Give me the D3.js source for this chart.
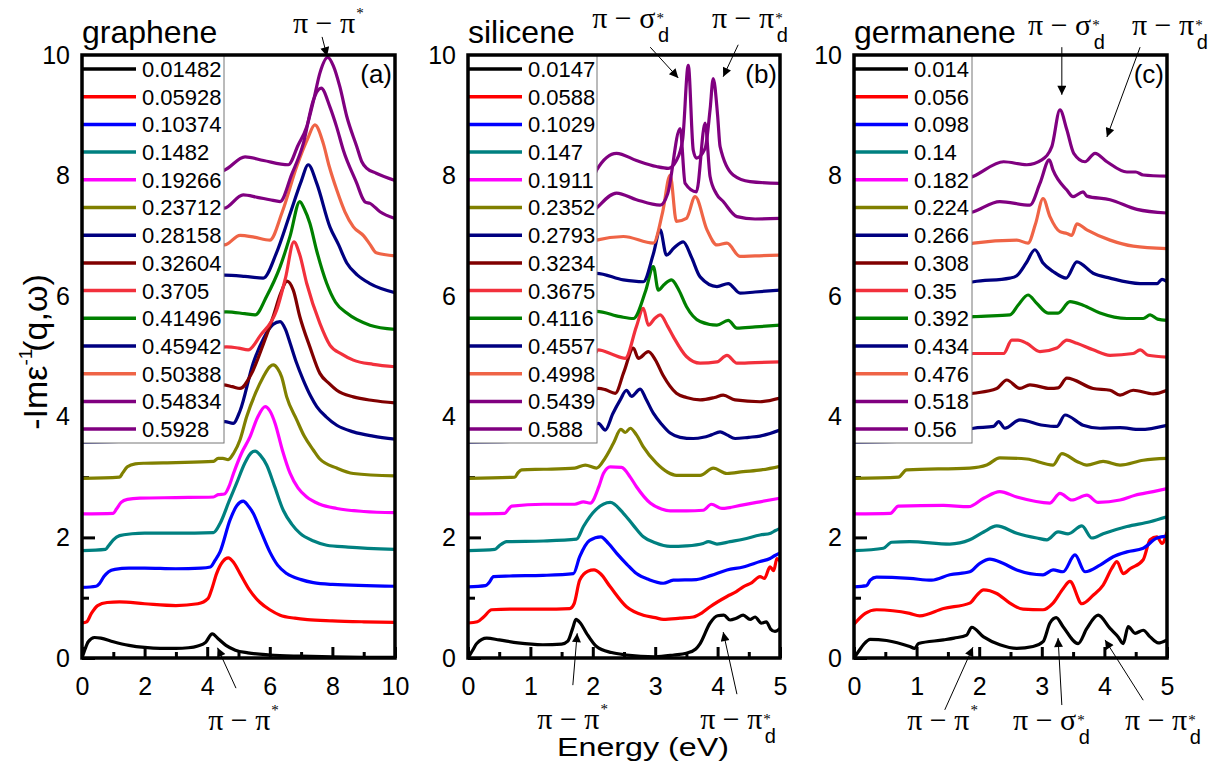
<!DOCTYPE html>
<html>
<head>
<meta charset="utf-8">
<script src="https://cdn.jsdelivr.net/npm/d3@7"></script>
<style>
  body { margin: 0; background: #fff; }
  svg text { font-family: Arial, "Liberation Sans", sans-serif; fill: #000; }
</style>
</head>
<body>
<svg id="chart" width="1230" height="771"></svg>
<script>
// Momentum transfers q (legend entries) for each material
const qGraphene = ["0.01482","0.05928","0.10374","0.1482","0.19266","0.23712","0.28158","0.32604","0.3705","0.41496","0.45942","0.50388","0.54834","0.5928"];
const qSilicene = ["0.0147","0.0588","0.1029","0.147","0.1911","0.2352","0.2793","0.3234","0.3675","0.4116","0.4557","0.4998","0.5439","0.588"];
const qGermanene = ["0.014","0.056","0.098","0.14","0.182","0.224","0.266","0.308","0.35","0.392","0.434","0.476","0.518","0.56"];

// Vertical shift between successive spectra
const offsetStep = 0.6;

// Tick labels
const yTickLabels = [0, 2, 4, 6, 8, 10];
const xTickLabelsGraphene = [0, 2, 4, 6, 8, 10];
const xTickLabelsSiGe = [0, 1, 2, 3, 4, 5];

// Loss spectra -Im eps^-1(q,w): [energy (eV), value] per q, before the vertical shift
const grapheneSpectra = [
  [[0,0],[0.1,0.15],[0.2,0.27],[0.4,0.34],[0.6,0.33],[1.0,0.27],[1.5,0.21],[2.0,0.175],[2.5,0.16],[3.0,0.16],[3.4,0.17],[3.7,0.2],[3.95,0.26],[4.16,0.4],[4.35,0.32],[4.6,0.21],[4.9,0.13],[5.3,0.085],[6.0,0.05],[7.0,0.03],[8.0,0.018],[9.0,0.012],[10,0.01]],
  [[0,-0.02],[0.15,0],[0.3,0.14],[0.5,0.27],[0.8,0.32],[1.2,0.33],[2,0.3],[3,0.27],[3.7,0.3],[4.03,0.39],[4.15,0.55],[4.3,0.8],[4.5,1.0],[4.67,1.06],[4.85,0.98],[5.05,0.8],[5.35,0.53],[5.69,0.32],[6,0.2],[6.33,0.11],[6.8,0.06],[7.2,0.035],[8,0.015],[9,0],[10,-0.01]],
  [[0,-0.03],[0.45,-0.01],[0.55,0.03],[0.7,0.15],[0.85,0.23],[1.05,0.27],[1.5,0.29],[2,0.29],[3,0.28],[3.8,0.29],[4.1,0.31],[4.25,0.42],[4.41,0.56],[4.73,1.09],[4.95,1.33],[5.15,1.4],[5.3,1.33],[5.47,1.2],[5.7,0.92],[6,0.56],[6.25,0.34],[6.54,0.2],[7,0.1],[7.39,0.05],[8,0.02],[10,-0.01]],
  [[0,-0.02],[0.75,0],[0.85,0.06],[1,0.16],[1.2,0.23],[1.6,0.26],[2,0.27],[3,0.27],[4.2,0.28],[4.41,0.43],[4.7,0.8],[4.94,1.1],[5.2,1.43],[5.4,1.6],[5.53,1.63],[5.7,1.56],[5.9,1.4],[6.15,1.05],[6.43,0.65],[6.7,0.42],[6.96,0.27],[7.4,0.14],[7.82,0.07],[8.5,0.04],[10,0]],
  [[0,-0.01],[1,0],[1.1,0.07],[1.25,0.18],[1.45,0.23],[1.85,0.25],[3,0.26],[4.2,0.27],[4.35,0.31],[4.55,0.32],[4.7,0.45],[4.84,0.66],[5.1,1.0],[5.37,1.27],[5.6,1.58],[5.85,1.77],[6.0,1.7],[6.17,1.49],[6.4,1.05],[6.65,0.66],[6.9,0.42],[7.18,0.27],[7.6,0.15],[8.14,0.08],[9,0.03],[10,0.01]],
  [[0,-0.02],[1.2,0],[1.3,0.07],[1.45,0.17],[1.7,0.22],[2,0.23],[3,0.24],[4.2,0.26],[4.35,0.31],[4.5,0.31],[4.67,0.29],[4.85,0.4],[5.05,0.62],[5.26,1.0],[5.55,1.4],[5.79,1.66],[6,1.83],[6.11,1.86],[6.25,1.8],[6.38,1.66],[6.54,1.33],[6.86,0.95],[7.1,0.68],[7.39,0.45],[7.6,0.3],[8.14,0.15],[8.67,0.06],[10,0.02]],
  [[0,-0.02],[1.45,0],[1.6,0.1],[1.8,0.2],[2.2,0.24],[3,0.26],[4.2,0.28],[4.57,0.32],[4.83,0.29],[5.05,0.5],[5.47,1.29],[5.8,1.7],[6.1,1.93],[6.33,1.98],[6.5,1.85],[6.65,1.62],[6.85,1.3],[7.07,1.01],[7.3,0.75],[7.5,0.57],[7.8,0.4],[8.14,0.26],[8.67,0.15],[9.3,0.08],[10,0.03]],
  [[0,-0.02],[1.7,0],[1.85,0.1],[2.05,0.2],[2.5,0.25],[3.5,0.28],[4.51,0.33],[4.8,0.3],[5.05,0.27],[5.4,0.5],[5.79,1.0],[6.1,1.45],[6.35,1.85],[6.55,2.05],[6.75,1.9],[6.96,1.46],[7.28,0.96],[7.6,0.52],[7.9,0.35],[8.14,0.24],[8.67,0.13],[9.3,0.07],[10,0.03]],
  [[0,-0.02],[1.95,0],[2.1,0.1],[2.3,0.2],[3,0.27],[4,0.32],[4.62,0.36],[5,0.34],[5.31,0.31],[5.7,0.55],[6.22,0.97],[6.5,1.5],[6.77,2.1],[6.95,1.9],[7.18,1.41],[7.6,0.75],[7.92,0.39],[8.3,0.24],[8.67,0.14],[9.3,0.07],[10,0.03]],
  [[0,-0.02],[2.2,0],[2.35,0.1],[2.55,0.2],[3.2,0.27],[4.62,0.34],[5.2,0.31],[5.53,0.29],[5.9,0.6],[6.33,1.09],[6.65,1.6],[6.96,2.17],[7.1,2.05],[7.28,1.81],[7.5,1.35],[7.82,0.81],[8.1,0.5],[8.46,0.32],[9.2,0.12],[10,0.05]],
  [[0,-0.02],[2.45,0],[2.6,0.1],[2.8,0.2],[3.5,0.28],[4.55,0.35],[5.2,0.33],[5.79,0.3],[6.2,0.7],[6.65,1.37],[7,1.9],[7.23,2.18],[7.5,1.87],[7.92,1.15],[8.2,0.85],[8.46,0.55],[8.8,0.35],[9.2,0.21],[10,0.06]],
  [[0,-0.02],[2.7,0],[2.85,0.1],[3.1,0.2],[3.8,0.25],[4.55,0.25],[5.05,0.41],[5.5,0.38],[6,0.33],[6.4,0.8],[6.86,1.55],[7.2,2.0],[7.44,2.24],[7.71,1.93],[7.9,1.55],[8.14,1.16],[8.4,0.8],[8.67,0.55],[9,0.4],[9.2,0.26],[9.4,0.12],[10,0.07]],
  [[0,-0.02],[2.95,0],[3.1,0.1],[3.35,0.2],[4,0.24],[4.55,0.26],[5.15,0.48],[5.6,0.44],[6,0.4],[6.33,0.37],[6.7,0.82],[7.07,1.33],[7.39,2.05],[7.64,2.25],[7.92,1.94],[8.14,1.6],[8.35,1.22],[8.78,0.67],[8.99,0.4],[9.05,0.36],[9.2,0.34],[9.52,0.2],[10,0.09]],
  [[0,-0.02],[3.2,0],[3.35,0.1],[3.6,0.2],[4.2,0.25],[4.55,0.29],[5.21,0.51],[5.8,0.45],[6.59,0.38],[6.9,0.7],[7.18,1.01],[7.4,1.45],[7.6,1.9],[7.85,2.16],[8.03,2.02],[8.24,1.67],[8.46,1.18],[8.78,0.68],[8.94,0.43],[9.1,0.32],[9.4,0.24],[10,0.12]]
];

const siliceneSpectra = [
  [[0,0],[0.07,0.12],[0.14,0.24],[0.3,0.33],[0.5,0.3],[0.8,0.25],[1.2,0.22],[1.5,0.23],[1.6,0.28],[1.68,0.5],[1.73,0.64],[1.8,0.58],[1.9,0.41],[2.06,0.19],[2.3,0.09],[2.54,0.05],[3,0.02],[3.3,0.05],[3.5,0.08],[3.65,0.15],[3.72,0.24],[3.88,0.58],[4,0.7],[4.1,0.71],[4.2,0.63],[4.3,0.66],[4.41,0.71],[4.52,0.64],[4.6,0.68],[4.7,0.58],[4.78,0.6],[4.85,0.48],[4.92,0.44],[5,0.49]],
  [[0,-0.02],[0.15,0],[0.25,0.08],[0.38,0.2],[0.67,0.21],[1.2,0.21],[1.63,0.22],[1.7,0.3],[1.79,0.69],[1.92,0.84],[2.02,0.86],[2.12,0.8],[2.28,0.58],[2.54,0.25],[2.81,0.11],[3,0.07],[3.13,0.04],[3.4,0.06],[3.61,0.08],[3.75,0.15],[3.88,0.25],[4.15,0.42],[4.3,0.5],[4.41,0.58],[4.55,0.65],[4.68,0.75],[4.75,0.72],[4.84,0.91],[4.9,0.85],[4.95,1.05],[5,1.0]],
  [[0,-0.02],[0.28,0],[0.33,0.04],[0.41,0.15],[0.67,0.16],[1.2,0.17],[1.69,0.2],[1.79,0.48],[1.95,0.75],[2.13,0.81],[2.25,0.7],[2.38,0.54],[2.55,0.35],[2.7,0.2],[2.9,0.1],[3.13,0.04],[3.29,0.09],[3.66,0.1],[3.9,0.17],[4.15,0.26],[4.41,0.31],[4.68,0.4],[4.84,0.45],[4.92,0.5],[5,0.54]],
  [[0,-0.02],[0.43,0],[0.5,0.06],[0.62,0.13],[1.21,0.14],[1.74,0.17],[1.85,0.38],[2.05,0.66],[2.28,0.78],[2.49,0.6],[2.65,0.4],[2.81,0.21],[3.0,0.11],[3.24,0.05],[3.5,0.06],[3.77,0.1],[3.85,0.13],[3.99,0.09],[4.2,0.13],[4.41,0.17],[4.68,0.24],[4.85,0.27],[4.92,0.31],[5,0.35]],
  [[0,-0.01],[0.59,0],[0.65,0.07],[0.7,0.12],[1.21,0.15],[1.71,0.15],[1.85,0.19],[1.96,0.17],[2.1,0.45],[2.17,0.66],[2.28,0.77],[2.46,0.76],[2.6,0.6],[2.7,0.44],[2.92,0.17],[3.1,0.07],[3.24,0.04],[3.5,0.04],[3.77,0.05],[3.9,0.15],[4.07,0.08],[4.41,0.14],[4.68,0.19],[5,0.25]],
  [[0,-0.02],[0.75,0],[0.8,0.07],[0.86,0.12],[1.21,0.13],[1.71,0.15],[1.88,0.2],[2.06,0.15],[2.2,0.32],[2.33,0.56],[2.45,0.79],[2.52,0.74],[2.6,0.81],[2.7,0.7],[2.81,0.5],[3.02,0.23],[3.2,0.08],[3.34,0.03],[3.72,0.03],[3.93,0.15],[4.15,0.06],[4.41,0.09],[4.7,0.12],[5,0.18]],
  [[0,-0.02],[0.95,0],[1.05,0.08],[1.1,0.12],[1.6,0.14],[1.95,0.22],[2.09,0.29],[2.2,0.18],[2.32,0.45],[2.44,0.68],[2.54,0.84],[2.62,0.74],[2.76,0.86],[2.85,0.7],[2.97,0.46],[3.1,0.28],[3.24,0.13],[3.4,0.06],[3.61,0.04],[3.77,0.06],[3.9,0.1],[4.04,0.15],[4.15,0.1],[4.28,0.04],[4.5,0.06],[4.68,0.08],[5,0.18]],
  [[0,-0.02],[1.1,0],[1.2,0.08],[1.3,0.12],[1.8,0.15],[2.09,0.27],[2.2,0.25],[2.36,0.19],[2.5,0.55],[2.65,0.94],[2.73,0.77],[2.89,0.88],[3.0,0.75],[3.13,0.48],[3.34,0.19],[3.5,0.12],[3.72,0.08],[3.95,0.12],[4.09,0.16],[4.28,0.08],[4.68,0.05],[5,0.11]],
  [[0,-0.02],[1.25,0],[1.35,0.08],[1.45,0.12],[2.0,0.2],[2.09,0.31],[2.3,0.24],[2.52,0.17],[2.7,0.7],[2.81,1.0],[2.89,0.72],[3.0,0.84],[3.08,0.89],[3.2,0.7],[3.29,0.53],[3.5,0.2],[3.72,0.09],[3.99,0.11],[4.15,0.22],[4.31,0.09],[4.6,0.1],[5,0.11]],
  [[0,-0.02],[1.4,0],[1.5,0.08],[1.6,0.12],[2.06,0.35],[2.44,0.26],[2.65,0.23],[2.85,0.7],[2.97,1.09],[3.05,0.7],[3.15,0.8],[3.26,0.87],[3.38,0.7],[3.5,0.43],[3.72,0.18],[3.99,0.12],[4.17,0.2],[4.31,0.07],[4.6,0.09],[5,0.12]],
  [[0,-0.02],[1.55,0],[1.65,0.08],[1.75,0.14],[2.06,0.38],[2.49,0.27],[2.81,0.24],[2.97,0.7],[3.08,1.1],[3.18,0.68],[3.3,0.8],[3.45,0.9],[3.58,0.65],[3.72,0.32],[3.99,0.16],[4.17,0.21],[4.36,0.05],[4.6,0.07],[5,0.1]],
  [[0,-0.02],[1.7,0],[1.8,0.08],[1.9,0.2],[2.06,0.33],[2.49,0.39],[2.97,0.28],[3.12,0.8],[3.24,1.41],[3.34,0.64],[3.5,0.69],[3.64,1.05],[3.83,0.5],[3.99,0.25],[4.15,0.28],[4.36,0.06],[4.6,0.07],[5,0.08]],
  [[0,-0.02],[1.8,0],[1.9,0.08],[2.0,0.2],[2.06,0.26],[2.38,0.51],[2.7,0.4],[3.08,0.31],[3.2,0.5],[3.4,1.58],[3.48,0.67],[3.66,0.53],[3.8,1.67],[3.88,0.78],[3.98,0.5],[4.09,0.37],[4.31,0.12],[4.6,0.08],[5,0.09]],
  [[0,-0.02],[1.9,0],[2.0,0.1],[2.06,0.29],[2.38,0.57],[2.7,0.45],[3.02,0.35],[3.21,0.32],[3.34,0.45],[3.44,0.8],[3.53,2.03],[3.61,0.62],[3.66,0.49],[3.8,0.65],[3.88,1.3],[3.93,1.81],[4.0,1.2],[4.04,0.68],[4.25,0.21],[4.52,0.1],[5,0.07]]
];

const germaneneSpectra = [
  [[0,0],[0.08,0.12],[0.15,0.22],[0.26,0.31],[0.52,0.29],[0.89,0.19],[0.97,0.16],[1.03,0.24],[1.43,0.3],[1.6,0.33],[1.8,0.38],[1.88,0.51],[2.07,0.35],[2.33,0.22],[2.6,0.16],[2.86,0.19],[3.02,0.27],[3.13,0.58],[3.23,0.67],[3.34,0.52],[3.58,0.24],[3.72,0.49],[3.9,0.71],[4.09,0.49],[4.22,0.35],[4.3,0.24],[4.38,0.52],[4.49,0.41],[4.62,0.46],[4.73,0.35],[4.86,0.25],[5,0.3]],
  [[0,-0.04],[0.18,0.14],[0.36,0.2],[0.89,0.14],[1.05,0.1],[1.43,0.22],[1.85,0.31],[1.96,0.44],[2.07,0.53],[2.28,0.47],[2.49,0.31],[2.7,0.21],[3.02,0.2],[3.18,0.31],[3.34,0.55],[3.45,0.67],[3.64,0.3],[3.82,0.44],[3.98,0.61],[4.12,0.89],[4.2,1.0],[4.3,0.8],[4.41,0.88],[4.62,1.03],[4.73,1.36],[4.84,1.41],[4.92,1.3],[5,1.49]],
  [[0,-0.02],[0.2,0],[0.26,0.09],[0.36,0.14],[0.89,0.12],[1.24,0.09],[1.53,0.18],[1.85,0.23],[2.01,0.37],[2.17,0.44],[2.38,0.37],[2.6,0.26],[3.02,0.18],[3.18,0.26],[3.34,0.23],[3.53,0.51],[3.69,0.23],[3.93,0.34],[4.14,0.48],[4.36,0.56],[4.62,0.62],[4.84,0.79],[5,0.82]],
  [[0,-0.02],[0.47,0.02],[0.6,0.12],[0.89,0.13],[1.53,0.09],[1.85,0.16],[2.07,0.29],[2.28,0.39],[2.6,0.27],[2.92,0.19],[3.08,0.16],[3.26,0.29],[3.42,0.26],[3.64,0.39],[3.8,0.19],[3.98,0.26],[4.36,0.38],[4.73,0.46],[5,0.54]],
  [[0,-0.01],[0.58,0],[0.71,0.12],[1.43,0.13],[1.83,0.11],[2.07,0.25],[2.33,0.36],[2.6,0.27],[3.13,0.17],[3.29,0.33],[3.48,0.22],[3.72,0.3],[3.9,0.18],[4.25,0.22],[4.49,0.3],[4.78,0.36],[5,0.41]],
  [[0,-0.02],[0.71,0],[0.84,0.12],[1.85,0.15],[2.12,0.2],[2.33,0.32],[2.76,0.3],[3.18,0.2],[3.32,0.39],[3.56,0.26],[3.72,0.2],[3.98,0.26],[4.25,0.2],[4.62,0.28],[5,0.31]],
  [[0,-0.02],[0.85,0],[0.98,0.12],[1.6,0.14],[1.91,0.21],[2.23,0.24],[2.31,0.32],[2.41,0.21],[2.65,0.35],[3.02,0.26],[3.24,0.24],[3.37,0.43],[3.66,0.26],[3.93,0.21],[4.25,0.22],[4.57,0.19],[5,0.26]],
  [[0,-0.02],[1.0,0],[1.12,0.12],[1.6,0.15],[1.91,0.19],[2.28,0.27],[2.44,0.41],[2.65,0.27],[2.81,0.33],[3.13,0.27],[3.26,0.28],[3.4,0.44],[3.82,0.27],[4.09,0.24],[4.25,0.16],[4.46,0.24],[4.78,0.18],[5,0.24]],
  [[0,-0.02],[1.1,0],[1.22,0.12],[1.6,0.17],[1.91,0.25],[2.39,0.25],[2.52,0.47],[2.62,0.47],[2.76,0.42],[2.97,0.28],[3.24,0.34],[3.4,0.47],[3.56,0.42],[3.82,0.31],[4.09,0.22],[4.46,0.25],[4.57,0.31],[4.7,0.22],[5,0.19]],
  [[0,-0.02],[1.2,0],[1.32,0.12],[1.6,0.2],[1.91,0.26],[2.49,0.29],[2.62,0.45],[2.78,0.62],[2.92,0.48],[3.1,0.32],[3.26,0.32],[3.45,0.51],[3.66,0.45],[3.93,0.32],[4.36,0.23],[4.62,0.23],[4.73,0.29],[4.85,0.22],[5,0.2]],
  [[0,-0.02],[1.3,0],[1.42,0.12],[1.7,0.2],[1.91,0.24],[2.49,0.3],[2.6,0.34],[2.75,0.55],[2.89,0.77],[3.02,0.55],[3.18,0.41],[3.39,0.3],[3.56,0.57],[3.82,0.38],[4.09,0.3],[4.57,0.21],[4.84,0.21],[4.92,0.28],[5,0.24]],
  [[0,-0.02],[1.4,0],[1.52,0.12],[1.91,0.28],[2.6,0.33],[2.78,0.28],[2.9,0.6],[3.02,1.02],[3.13,0.72],[3.29,0.47],[3.4,0.44],[3.48,0.41],[3.56,0.6],[3.72,0.5],[4.09,0.33],[4.46,0.23],[5,0.19]],
  [[0,-0.02],[1.5,0],[1.62,0.12],[1.91,0.2],[2.33,0.37],[2.81,0.31],[2.97,0.67],[3.12,1.06],[3.18,0.89],[3.4,0.56],[3.5,0.45],[3.66,0.53],[3.72,0.46],[4.09,0.4],[4.52,0.24],[5,0.18]],
  [[0,-0.02],[1.6,0],[1.72,0.12],[1.91,0.19],[2.39,0.43],[2.76,0.38],[3.0,0.46],[3.16,0.68],[3.29,1.29],[3.4,0.96],[3.51,0.57],[3.69,0.43],[3.85,0.57],[4.04,0.43],[4.36,0.26],[4.5,0.26],[4.62,0.21],[5,0.19]]
];

// Line colours, one per q (same order in every panel)
const lineColors = ["#000000","#ff0000","#0000ff","#008080","#ff00ff","#808000","#000080","#800000",
                    "#f2303c","#008000","#000080","#ef6446","#800080","#800080"];

// Transition labels: text anchor, arrow tail and arrow head, all in data units
const annotations = [
  [
    {base:"π − π", sub:false, at:[6.74,10.36], from:[7.67,10.3], to:[7.83,9.98]},
    {base:"π − π", sub:false, at:[4.03,-1.19], from:[4.92,-0.5], to:[4.33,0.17]}
  ],
  [
    {base:"π − σ", sub:true, at:[1.99,10.45], from:[2.92,10.13], to:[3.37,9.62]},
    {base:"π − π", sub:true, at:[3.91,10.45], from:[4.33,10.17], to:[4.09,9.64]},
    {base:"π − π", sub:false, at:[1.11,-1.17], from:[1.68,-0.45], to:[1.75,0.41]},
    {base:"π − π", sub:true, at:[3.72,-1.17], from:[4.31,-0.6], to:[4.09,0.43]}
  ],
  [
    {base:"π − σ", sub:true, at:[2.78,10.33], from:[3.32,10.13], to:[3.32,9.34]},
    {base:"π − π", sub:true, at:[4.44,10.33], from:[4.57,10.13], to:[4.04,8.64]},
    {base:"π − π", sub:false, at:[0.85,-1.19], from:[1.45,-0.86], to:[1.9,0.18]},
    {base:"π − σ", sub:true, at:[2.54,-1.19], from:[3.32,-0.78], to:[3.26,0.33]},
    {base:"π − π", sub:true, at:[4.33,-1.19], from:[4.62,-0.7], to:[4.01,0.3]}
  ]
];

const panels = [
  {title:"graphene",  tag:"(a)", q:qGraphene,  spectra:grapheneSpectra,  eMax:10, xLabels:xTickLabelsGraphene, minorStep:1,
   x0:82,  x1:395,  legendW:142},
  {title:"silicene",  tag:"(b)", q:qSilicene,  spectra:siliceneSpectra,  eMax:5,  xLabels:xTickLabelsSiGe, minorStep:0.5,
   x0:468, x1:780,  legendW:129},
  {title:"germanene", tag:"(c)", q:qGermanene, spectra:germaneneSpectra, eMax:5,  xLabels:xTickLabelsSiGe, minorStep:0.5,
   x0:854, x1:1167, legendW:118}
];

const plotTop = 55, plotBottom = 658, legendBottom = 443, rowStep = 27.7;
const serif = "'Liberation Serif', 'DejaVu Serif', serif";
const sans = "Arial, 'Liberation Sans', sans-serif";
const svg = d3.select("#chart");

const defs = svg.append("defs");
defs.append("marker").attr("id", "arrowhead")
  .attr("viewBox", "0 0 10 10").attr("refX", 10).attr("refY", 5)
  .attr("markerUnits", "userSpaceOnUse").attr("markerWidth", 11).attr("markerHeight", 9)
  .attr("orient", "auto")
  .append("path").attr("d", "M0,0 L10,5 L0,10 Z").attr("fill", "#000");

const y = d3.scaleLinear().domain([0, 10]).range([plotBottom, plotTop]);

panels.forEach((p, pi) => {
  const x = d3.scaleLinear().domain([0, p.eMax]).range([p.x0, p.x1]);
  const g = svg.append("g");

  const clipId = "clip" + pi;
  defs.append("clipPath").attr("id", clipId)
    .append("rect").attr("x", p.x0).attr("y", plotTop).attr("width", p.x1 - p.x0).attr("height", plotBottom - plotTop);

  // inward ticks
  const steps = d3.range(0, p.eMax + 1e-9, p.minorStep);
  const xMajor = steps.filter(v => p.xLabels.includes(v));
  const xMinor = steps.filter(v => !p.xLabels.includes(v));
  const tickG = g.append("g");
  const xt = (vals, len) => tickG.append("g").attr("transform", `translate(0,${plotBottom})`)
    .call(d3.axisBottom(x).tickValues(vals).tickSize(-len).tickFormat(""))
    .call(s => s.select(".domain").remove())
    .call(s => s.selectAll("line").attr("stroke", "#000").attr("stroke-width", 3));
  xt(xMajor, 11); xt(xMinor, 6);
  const yt = (vals, len) => tickG.append("g").attr("transform", `translate(${p.x0},0)`)
    .call(d3.axisLeft(y).tickValues(vals).tickSize(-len).tickFormat(""))
    .call(s => s.select(".domain").remove())
    .call(s => s.selectAll("line").attr("stroke", "#000").attr("stroke-width", 3));
  yt(yTickLabels, 13); yt([1,3,5,7,9], 7);

  // spectra, shifted by offsetStep per q
  const line = d3.line()
    .x(d => x(d[0])).y(d => y(d[1]))
    .curve(d3.curveMonotoneX);
  g.append("g").attr("clip-path", `url(#${clipId})`)
    .selectAll("path").data(p.spectra).join("path")
    .attr("d", (s, i) => line(s.map(d => [d[0], d[1] + i * offsetStep])))
    .attr("fill", "none")
    .attr("stroke", (s, i) => lineColors[i])
    .attr("stroke-width", 3.2)
    .attr("stroke-linejoin", "round");

  // legend
  const lg = g.append("g");
  lg.append("rect").attr("x", p.x0).attr("y", plotTop).attr("width", p.legendW).attr("height", legendBottom - plotTop)
    .attr("fill", "#fff").attr("stroke", "#777").attr("stroke-width", 1);
  const rows = lg.selectAll("g.row").data(p.q).join("g")
    .attr("transform", (d, i) => `translate(${p.x0},${plotTop + 14 + i * rowStep})`);
  rows.append("line").attr("x1", 0).attr("x2", 54).attr("y1", 0).attr("y2", 0)
    .attr("stroke", (d, i) => lineColors[i]).attr("stroke-width", 3.5);
  rows.append("text").attr("x", 60).attr("dy", "0.36em").style("font-size", "22px").text(d => d);

  // frame
  g.append("rect").attr("x", p.x0).attr("y", plotTop).attr("width", p.x1 - p.x0).attr("height", plotBottom - plotTop)
    .attr("fill", "none").attr("stroke", "#000").attr("stroke-width", 3.5);

  // tick labels
  g.append("g").attr("transform", `translate(0,${plotBottom})`)
    .call(d3.axisBottom(x).tickValues(p.xLabels).tickSize(0).tickPadding(19).tickFormat(d3.format("d")))
    .call(s => s.select(".domain").remove())
    .call(s => s.selectAll("text").style("font-size", "25px").attr("font-family", null));
  g.append("g").attr("transform", `translate(${p.x0},0)`)
    .call(d3.axisLeft(y).tickValues(yTickLabels).tickSize(0).tickPadding(12).tickFormat(d3.format("d")))
    .call(s => s.select(".domain").remove())
    .call(s => s.selectAll("text").style("font-size", "25px").attr("font-family", null));

  // title and panel tag
  g.append("text").attr("x", p.x0).attr("y", 43).style("font-size", "32px").text(p.title);
  g.append("text").attr("x", p.x1 - 3).attr("y", 83).attr("text-anchor", "end").style("font-size", "26px").text(p.tag);

  // transition labels with arrows
  annotations[pi].forEach(a => {
    g.append("line")
      .attr("x1", x(a.from[0])).attr("y1", y(a.from[1]))
      .attr("x2", x(a.to[0])).attr("y2", y(a.to[1]))
      .attr("stroke", "#000").attr("stroke-width", 1)
      .attr("marker-end", "url(#arrowhead)");
    const t = g.append("text").attr("x", x(a.at[0])).attr("y", y(a.at[1]))
      .style("font-family", serif).style("font-size", "30px");
    t.append("tspan").text(a.base);
    const lift = a.sub ? -5 : -15;
    t.append("tspan").attr("dx", 1).attr("dy", lift).style("font-size", "15px").text("*");
    if (a.sub) {
      t.append("tspan").attr("dx", -6).attr("dy", 14 - lift)
        .style("font-family", sans).style("font-size", "20px").text("d");
    }
  });
});

// shared axis titles
svg.append("text").attr("x", 643).attr("y", 756).attr("text-anchor", "middle")
  .attr("textLength", 172).attr("lengthAdjust", "spacingAndGlyphs")
  .style("font-size", "26px").text("Energy (eV)");

const yl = svg.append("text").attr("transform", "translate(47,352) rotate(-90)")
  .attr("text-anchor", "middle").style("font-size", "34px");
yl.append("tspan").text("-Imε");
yl.append("tspan").attr("dx", 0).attr("dy", -15).style("font-size", "19px").text("-1");
yl.append("tspan").attr("dx", -3).attr("dy", 15).text("(q,ω)");
</script>
</body>
</html>
